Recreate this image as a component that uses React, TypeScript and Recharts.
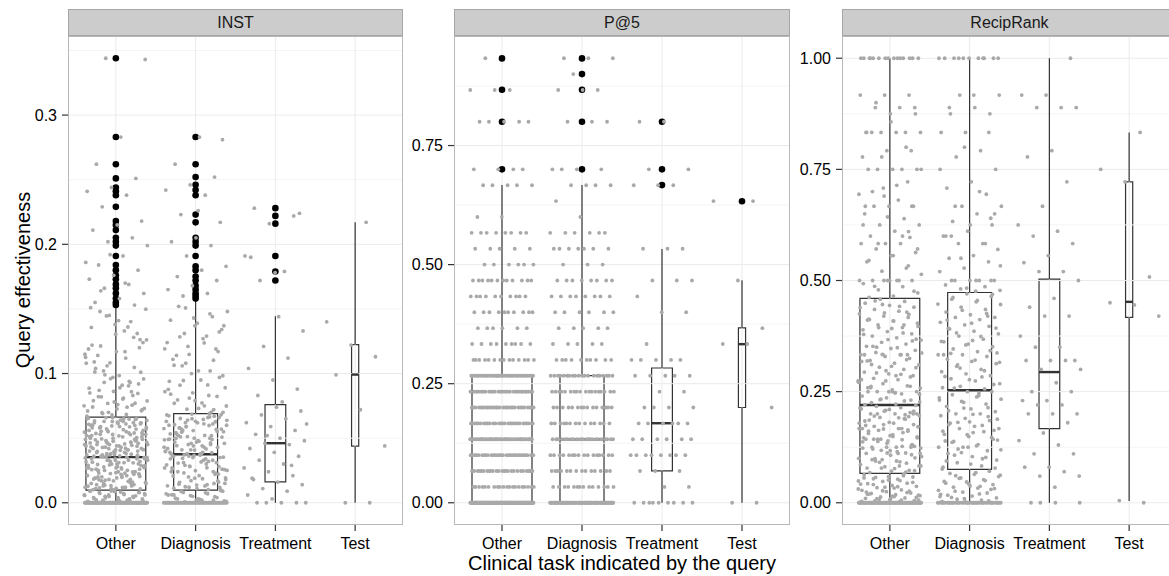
import React from "react";
import { ComposedChart, Scatter, XAxis, YAxis, ReferenceLine, ReferenceArea } from "recharts";

// ---------------- categories / group sizes ----------------
const categories = ["Other", "Diagnosis", "Treatment", "Test"];
const groupSizes = [700, 377, 84, 10];

// ---------------- INST ----------------
const instZeroCounts = [80, 55, 5, 2];
const instOther = [
  .001,.002,.002,.003,.004,.004,.005,.006,.006,.007,.008,.008,.009,.009,.003,.005,.007,.001,
  .011,.024,.038,.052,.061,.017,.029,.044,.058,.013,.033,.047,
  .064,.020,.036,.050,.027,.041,.015,.056,.031,.062,.022,.045,
  .012,.039,.053,.026,.034,.060,.018,.048,.035,.043,.014,.057,
  .030,.065,.021,.037,.051,.028,.042,.016,.055,.033,.063,.023,
  .046,.010,.040,.054,.025,.035,.059,.019,.049,.032,.044,.012,
  .036,.061,.027,.052,.015,.038,.057,.021,.047,.034,.066,.029,
  .041,.013,.053,.024,.036,.062,.018,.045,.031,.058,.022,.039,
  .050,.016,.043,.034,.064,.026,.048,.011,.037,.055,.020,.042,
  .030,.060,.014,.046,.035,.051,.025,.040,.017,.056,.033,.063,
  .028,.044,.019,.054,.037,.049,.023,.059,.032,.041,.015,.047,
  .036,.053,.027,.045,.065,
  .068,.071,.074,.069,.072,.076,.079,.083,.070,.075,
  .081,.087,.092,.078,.085,.094,.099,.073,.089,.104,
  .077,.096,.108,.112,.082,.101,.117,.122,.086,.106,
  .126,.091,.114,.131,.097,.119,.136,.102,.124,.141,
  .109,.128,.145,.115,.133,.148,.120,.138,.151,.093,
  .344,.343,.283,.262,.251,.244,.241,.238,.229,.218,.215,.211,.205,.202,.199,
  .191,.184,.18,.176,.173,.169,.166,.162,.158,.155,.153,.192,.186,.17,.164,
];
const instOtherMore = [
  .0107,.0233,.0341,.0468,.0572,.0149,.0262,.0397,.0503,.0629,
  .0128,.0251,.0356,.0491,.0613,.0183,.0309,.0419,.0547,.0651,
  .0116,.0224,.0372,.0463,.0588,.0175,.0288,.0406,.0536,.0644,
  .0133,.0269,.0381,.0494,.0619,.0192,.0314,.0445,.0561,.0638,
  .0119,.0247,.0368,.0476,.0607,.0166,.0277,.0411,.0518,.0634,
  .0141,.0293,.0347,.0455,.0581,.0204,.0329,.0433,.0527,.0659,
  .0157,.0219,.0389,.0482,.0595,.0211,.0352,.0428,.0541,.0623,
  .0102,.0238,.0334,.0451,.0566,.0178,.0301,.0396,.0512,.0647,
  .0136,.0273,.0363,.0487,.0599,.0226,.0317,.0422,.0553,.0617,
  .0112,.0256,.0376,.0469,.0584,.0197,.0296,.0438,.0529,.0655,
  .0004,.0011,.0018,.0026,.0033,.0041,.0049,.0057,.0064,.0072,
  .0079,.0086,.0093,.0015,.0038,.0061,.0083,.0022,.0054,.0091,
  .0671,.0683,.0697,.0712,.0726,.0741,.0755,.0769,.0788,.0803,
  .0821,.0846,.0862,.0887,.0905,.0931,.0958,.0984,.1012,.1047,
  .1083,.1126,.1169,.1213,.1262,.1305,.1357,.1402,.1446,.1498,
];
const instDiagnosis = [
  .001,.002,.003,.004,.005,.006,.007,.008,.009,.003,.006,.002,
  .012,.027,.043,.058,.066,.019,.034,.050,.062,.015,.038,.054,
  .023,.046,.068,.030,.041,.057,.011,.036,.049,.064,.025,.039,
  .052,.017,.044,.060,.032,.037,.055,.021,.047,.067,.028,.040,
  .013,.051,.035,.063,.024,.045,.059,.018,.038,.053,.031,.065,
  .042,.014,.056,.026,.048,.036,.061,.020,.043,.033,.058,.016,
  .050,.039,.069,.029,.046,.037,.054,.022,.041,.063,.034,.057,
  .010,.047,.027,.052,.038,.060,.044,.024,.055,.035,.049,.066,.031,
  .070,.073,.077,.072,.081,.086,.075,.091,.097,.079,.084,.102,.108,.089,.095,.114,.119,.100,
  .124,.129,.106,.134,.139,.111,.144,.121,.148,.127,.152,.117,.143,.094,.083,.131,.137,
  .283,.262,.252,.246,.242,.238,.223,.217,.205,.202,.199,.191,.183,.18,.175,.172,.168,.165,.162,.16,.281,.226,
];
const instDiagnosisMore = [
  .0113,.0241,.0362,.0487,.0611,.0158,.0279,.0408,.0533,.0664,
  .0124,.0256,.0371,.0499,.0627,.0171,.0293,.0417,.0546,.0681,
  .0137,.0263,.0388,.0512,.0638,.0186,.0307,.0429,.0559,.0673,
  .0102,.0231,.0353,.0476,.0604,.0149,.0284,.0396,.0521,.0652,
  .0119,.0248,.0379,.0463,.0589,.0193,.0316,.0442,.0567,.0686,
  .0131,.0271,.0344,.0508,.0619,.0207,.0329,.0451,.0574,.0645,
  .0144,.0222,.0367,.0493,.0598,
  .0006,.0014,.0027,.0035,.0048,.0056,.0069,.0077,.0088,.0095,.0021,.0062,
  .0702,.0724,.0749,.0773,.0796,.0823,.0851,.0878,.0912,.0946,.0983,.1021,
  .1064,.1103,.1148,.1191,.1237,.1284,.1322,.1369,.1413,.1462,.1508,
];
const instTreatment = [
  .003,.006,.009,.011,.014,.016,
  .018,.021,.024,.027,.030,.033,.036,.039,.042,.045,.046,.048,.050,.053,.056,.059,.062,.065,.068,.071,.074,
  .019,.029,.052,.061,
  .078,.083,.088,.095,.104,.112,.121,.133,.144,
  .228,.222,.216,.191,.179,.172,.224,.178,.19,
];
const instTest = [.044, .072, .099, .113, .122, .14, .217];
const instBoxes = [
  [0, .0098, .0353, .0662, .152],
  [0, .0098, .0376, .069, .156],
  [0, .0162, .0461, .076, .1443],
  [0, .0438, .0992, .1224, .217],
];
const instOutliers = [
  [.344,.283,.262,.251,.244,.241,.238,.229,.218,.215,.211,.205,.202,.199,.191,.184,.18,.176,.173,.169,.166,.162,.158,.155,.153],
  [.283,.262,.252,.246,.242,.238,.223,.217,.205,.202,.199,.191,.183,.18,.175,.172,.168,.165,.162,.16,.158],
  [.228,.222,.216,.191,.179,.172],
  [],
];
const instTicks = [0, 0.1, 0.2, 0.3];
const instMinor = [0.05, 0.15, 0.25, 0.35];

// ---------------- P@5 (counts per level k/30) ----------------
const p5Other = [130,20,25,30,40,28,30,30,35,14,9,6,10,10,12,6,5,8,2,0,5,4,0,0,5,0,3,0,1];
const p5Diagnosis = [80,14,14,16,22,14,15,18,20,10,5,5,6,8,8,3,7,6,1,1,4,4,0,0,3,0,3,1,3];
const p5Treatment = [9,2,3,8,6,6,4,2,5,5,1,0,2,1,3,0,3,0,0,0,3,2,0,0,2];
const p5Test = [2,0,0,0,0,0,1,0,0,0,2,1,0,0,1,0,0,0,0,2];
const p5Boxes = [
  [0, 0, .133, .267, .667],
  [0, 0, .133, .267, .667],
  [0, .067, .167, .283, .533],
  [0, .2, .333, .367, .467],
];
const p5Outliers = [
  [.7, .8, .867, .933],
  [.7, .8, .867, .9, .933],
  [.667, .7, .8],
  [.633],
];
const p5Ticks = [0, 0.25, 0.5, 0.75];
const p5Minor = [0.125, 0.375, 0.625, 0.875];

// ---------------- RecipRank ----------------
const rrZeroCounts = [80, 45, 4, 1];
const rrOther = [
  .003,.006,.009,.012,.015,.019,.023,.027,.031,.036,.041,.046,.051,.056,.061,.008,.017,.033,
  .068,.073,.081,.086,.092,.094,.101,.107,.111,.112,.118,.123,
  .125,.125,.129,.134,.137,.142,.143,.148,.153,.156,.161,.166,
  .167,.167,.172,.176,.181,.184,.189,.192,.196,.2,.2,.203,
  .208,.211,.214,.217,.219,.071,.078,.089,.097,.104,.115,.121,
  .131,.139,.146,.158,.163,.171,.179,.186,.194,.206,.213,.083,
  .099,.127,.151,.174,.198,.143,.111,
  .222,.225,.231,.236,.24,.245,.25,.25,.254,.259,.263,.268,
  .271,.277,.28,.286,.29,.294,.3,.305,.31,.314,.32,.325,
  .329,.333,.333,.338,.343,.347,.352,.357,.361,.366,.371,.375,
  .38,.385,.389,.394,.4,.404,.409,.413,.417,.42,.425,.431,
  .435,.44,.444,.449,.453,.458,.227,.248,.262,.283,.297,.318,
  .333,.35,.368,.392,.411,.429,.446,.274,
  1,1,1,1,1,1,1,1,1,1,
  .917,.917,.917,.889,.889,.889,.875,.833,.833,.833,.833,.833,.833,.792,.792,.778,.75,.75,.75,.75,
  .75,.722,.708,.694,.681,.667,.667,.667,.65,.639,.625,.625,.611,.6,.597,.583,.583,.583,.571,.563,
  .556,.542,.528,.521,.514,.5,.5,.5,.5,.493,.486,.479,.472,.465,.462,.61,.69,
];
const rrOtherMore = [
  .001,.002,.004,.005,.007,.01,.011,.013,.016,.018,.021,.022,.025,.028,.029,.034,.037,.039,.043,.044,
  .048,.049,.053,.054,.058,.059,.063,.064,.002,.006,.014,.02,.026,.035,.042,.05,.057,.003,.009,.024,
  .069,.078,.083,.094,.097,.108,.112,.123,.127,.138,.146,.149,.161,.164,.176,.179,.191,.195,.206,.21,
  .221,.229,.232,.244,.247,.259,.262,.274,.277,.289,.292,.304,.307,.319,.322,.334,.337,.349,.352,.364,
  .367,.379,.382,.394,.397,.409,.412,.424,.427,.439,.442,.454,.072,.117,.143,.188,.233,.258,.286,.311,
  .125,.125,.167,.167,.2,.2,.25,.25,.333,.333,.1,.111,.143,.2,.25,.333,.4,.091,.083,.077,
  1,1,1,1,1,.9,.875,.857,.833,.8,.778,.75,.714,.7,.667,.643,.625,.6,.583,.571,
  .556,.545,.533,.5,.5,.5,.487,.476,.5,.667,
];
const rrDiagnosis = [
  .004,.009,.014,.02,.026,.032,.038,.044,.05,.056,.062,.068,.012,.03,.047,
  .076,.083,.09,.096,.104,.111,.117,.125,.125,.131,.138,.143,.149,.154,.16,.167,.167,.172,.179,.185,
  .19,.196,.2,.2,.205,.211,.217,.222,.228,.233,.238,.243,.25,.25,.08,.099,.121,.141,.158,.176,.194,
  .213,.231,.246,.107,.163,.182,.139,
  .256,.262,.268,.274,.279,.286,.29,.295,.3,.307,.313,.318,.323,.329,.333,.333,.34,.346,.351,.357,
  .362,.368,.375,.38,.386,.391,.397,.4,.406,.412,.417,.417,.423,.429,.435,.44,.446,.452,.458,.464,
  .47,.259,.283,.31,.337,.365,.392,.42,
  1,1,1,1,1,1,1,1,.917,.917,.889,.875,.875,.833,.833,.792,.778,.75,.722,.708,.694,.667,.667,.65,
  .633,.625,.611,.6,.583,.583,.57,.556,.55,.542,.528,.52,.5,.5,.5,.5,.49,.486,.481,.478,.476,.6,.64,
];
const rrDiagnosisMore = [
  .001,.003,.006,.008,.011,.015,.017,.022,.024,.028,.033,.035,.041,.043,.048,.052,.055,.059,.064,.066,
  .071,.002,.019,.037,.061,
  .078,.087,.094,.102,.113,.119,.128,.136,.147,.153,.161,.174,.181,.188,.199,.207,.214,.226,.236,.241,
  .258,.266,.277,.284,.297,.303,.316,.321,.336,.342,.355,.363,.374,.382,.393,.404,.411,.426,.433,.447,
  .455,.462,.469,.125,.333,
  1,1,1,.917,.889,.833,.8,.75,.7,.667,.65,.625,.6,.583,.55,.533,.5,.5,.5,.483,
];
const rrTreatment = [
  1,.917,.917,.889,.889,.889,.792,.778,.722,.667,.625,.611,.6,.583,.556,.54,.52,.52,.5,
  .46,.44,.42,.42,.375,.35,.35,.32,.32,.32,.32,.3,.3,.27,.25,.25,.23,.23,.22,.22,.2,.2,.2,
  .18,.157,.14,.13,.11,.11,.08,.08,.07,.06,.06,.035,
];
const rrTest = [.005, .42, .445, .45, .508, .722, .75, .833];
const rrBoxes = [
  [0, .066, .22, .46, 1],
  [0, .075, .253, .473, 1],
  [0, .167, .294, .503, 1],
  [.004, .417, .452, .722, .833],
];
const rrOutliers = [[], [], [], []];
const rrTicks = [0, 0.25, 0.5, 0.75, 1];
const rrMinor = [0.125, 0.375, 0.625, 0.875];

// ---------------- helpers ----------------
const withZeros = (zeros: number, ...vals: number[][]) => [...Array(zeros).fill(0), ...vals.flat()];
const fromLevels = (counts: number[], denom: number) =>
  counts.flatMap((c, k) => Array(c).fill(k / denom));

const GOLD = 0.6180339887;
const FONT = "'Liberation Sans', Arial, Helvetica, sans-serif";

type PanelCfg = {
  title: string;
  left: number;
  width: number;
  yWidth: number;
  domain: [number, number];
  ticks: number[];
  minor: number[];
  digits: number;
  groups: number[][];
  boxes: number[][];
  outliers: number[][];
};

const panels: PanelCfg[] = [
  {
    title: "INST", left: 0, width: 410, yWidth: 68, domain: [-0.0172, 0.3612],
    ticks: instTicks, minor: instMinor, digits: 1,
    groups: [
      withZeros(instZeroCounts[0], instOther, instOtherMore),
      withZeros(instZeroCounts[1], instDiagnosis, instDiagnosisMore),
      withZeros(instZeroCounts[2], instTreatment),
      withZeros(instZeroCounts[3], instTest),
    ],
    boxes: instBoxes, outliers: instOutliers,
  },
  {
    title: "P@5", left: 395, width: 402, yWidth: 59, domain: [-0.04667, 0.98],
    ticks: p5Ticks, minor: p5Minor, digits: 2,
    groups: [fromLevels(p5Other, 30), fromLevels(p5Diagnosis, 30), fromLevels(p5Treatment, 30), fromLevels(p5Test, 30)],
    boxes: p5Boxes, outliers: p5Outliers,
  },
  {
    title: "RecipRank", left: 785, width: 399, yWidth: 57, domain: [-0.05, 1.05],
    ticks: rrTicks, minor: rrMinor, digits: 2,
    groups: [
      withZeros(rrZeroCounts[0], rrOther, rrOtherMore),
      withZeros(rrZeroCounts[1], rrDiagnosis, rrDiagnosisMore),
      withZeros(rrZeroCounts[2], rrTreatment),
      withZeros(rrZeroCounts[3], rrTest),
    ],
    boxes: rrBoxes, outliers: rrOutliers,
  },
];

const TOP = 36;
const BOTTOM = 525;
const RIGHT_M = 7;

const GrayDot = (p: any) => <circle cx={p.cx} cy={p.cy} r={1.9} fill="#a9a9a9" />;
const BlackDot = (p: any) => <circle cx={p.cx} cy={p.cy} r={3.3} fill="#000" />;

function Panel({ cfg }: { cfg: PanelCfg }) {
  const nMax = Math.max(...groupSizes);
  const jitter: { x: number; y: number }[] = [];
  cfg.groups.forEach((vals, gi) => {
    vals.forEach((v, i) => {
      const f = ((i + 1) * GOLD + gi * 0.37) % 1;
      jitter.push({ x: gi + 1 + (f - 0.5) * 0.8, y: v });
    });
  });
  const outs = cfg.outliers.flatMap((vals, gi) => vals.map((v) => ({ x: gi + 1, y: v })));
  const plotLeft = cfg.left + cfg.yWidth;
  const plotW = cfg.width - cfg.yWidth - RIGHT_M;

  return (
    <>
      <div
        style={{
          position: "absolute", left: plotLeft, top: 9, width: plotW, height: TOP - 9,
          boxSizing: "border-box", background: "#cccccc", border: "1px solid #a6a6a6",
          fontFamily: FONT, fontSize: 16, color: "#1a1a1a", textAlign: "center", lineHeight: "25px",
        }}
      >
        {cfg.title}
      </div>
      <div style={{ position: "absolute", left: cfg.left, top: 0 }}>
        <ComposedChart
          width={cfg.width}
          height={576}
          margin={{ top: TOP, right: RIGHT_M, bottom: 21, left: 0 }}
        >
          <XAxis
            type="number" dataKey="x" domain={[0.4, 4.6]} ticks={[1, 2, 3, 4]} interval={0}
            allowDataOverflow tickFormatter={(v: number) => categories[v - 1]}
            axisLine={false} tickSize={6} tickMargin={7} height={30}
            tickLine={{ stroke: "#333", strokeWidth: 1.2 }}
            tick={{ fill: "#000", fontSize: 16, fontFamily: FONT }}
          />
          <YAxis
            type="number" dataKey="y" domain={cfg.domain} ticks={cfg.ticks} interval={0}
            allowDataOverflow tickFormatter={(v: number) => v.toFixed(cfg.digits)}
            axisLine={false} tickSize={6} tickMargin={5} width={cfg.yWidth}
            tickLine={{ stroke: "#333", strokeWidth: 1.2 }}
            tick={{ fill: "#000", fontSize: 16, fontFamily: FONT }}
          />
          {cfg.minor.map((v) => (
            <ReferenceLine key={"mn" + v} y={v} stroke="#f4f4f4" strokeWidth={1} />
          ))}
          {cfg.ticks.map((v) => (
            <ReferenceLine key={"mj" + v} y={v} stroke="#ebebeb" strokeWidth={1} />
          ))}
          {categories.map((c, i) => (
            <ReferenceLine key={"vx" + c} x={i + 1} stroke="#ebebeb" strokeWidth={1} />
          ))}
          {cfg.boxes.map((b, i) => {
            const c = i + 1;
            const hw = (0.75 * Math.sqrt(groupSizes[i] / nMax)) / 2;
            const [lo, q1, med, q3, hi] = b;
            return [
              <ReferenceLine key={"wl" + i} segment={[{ x: c, y: lo }, { x: c, y: q1 }]} stroke="#333" strokeWidth={1.2} />,
              <ReferenceLine key={"wh" + i} segment={[{ x: c, y: q3 }, { x: c, y: hi }]} stroke="#333" strokeWidth={1.2} />,
              <ReferenceArea key={"bx" + i} x1={c - hw} x2={c + hw} y1={q1} y2={q3} fill="#fff" fillOpacity={0} stroke="#333" strokeWidth={1.2} />,
              <ReferenceLine key={"md" + i} segment={[{ x: c - hw, y: med }, { x: c + hw, y: med }]} stroke="#333" strokeWidth={2.4} />,
            ];
          })}
          <Scatter data={outs} shape={BlackDot} isAnimationActive={false} />
          <Scatter data={jitter} shape={GrayDot} isAnimationActive={false} />
        </ComposedChart>
      </div>
      <div
        style={{
          position: "absolute", left: plotLeft, top: TOP, width: plotW, height: BOTTOM - TOP,
          boxSizing: "border-box", border: "1px solid #b8b8b8", pointerEvents: "none",
        }}
      />
    </>
  );
}

export default function App() {
  return (
    <div
      style={{
        position: "absolute", left: 0, top: 0, width: 1169, height: 576,
        overflow: "hidden", background: "#fff",
      }}
    >
      {panels.map((p) => (
        <Panel key={p.title} cfg={p} />
      ))}
      <div
        style={{
          position: "absolute", left: 23 - 150, top: 280 - 12, width: 300, height: 24,
          transform: "rotate(-90deg)", textAlign: "center", fontFamily: FONT, fontSize: 20,
          lineHeight: "24px", color: "#000",
        }}
      >
        Query effectiveness
      </div>
      <div
        style={{
          position: "absolute", left: 622 - 250, top: 551, width: 500, height: 24,
          textAlign: "center", fontFamily: FONT, fontSize: 20, lineHeight: "24px", color: "#000",
        }}
      >
        Clinical task indicated by the query
      </div>
    </div>
  );
}
